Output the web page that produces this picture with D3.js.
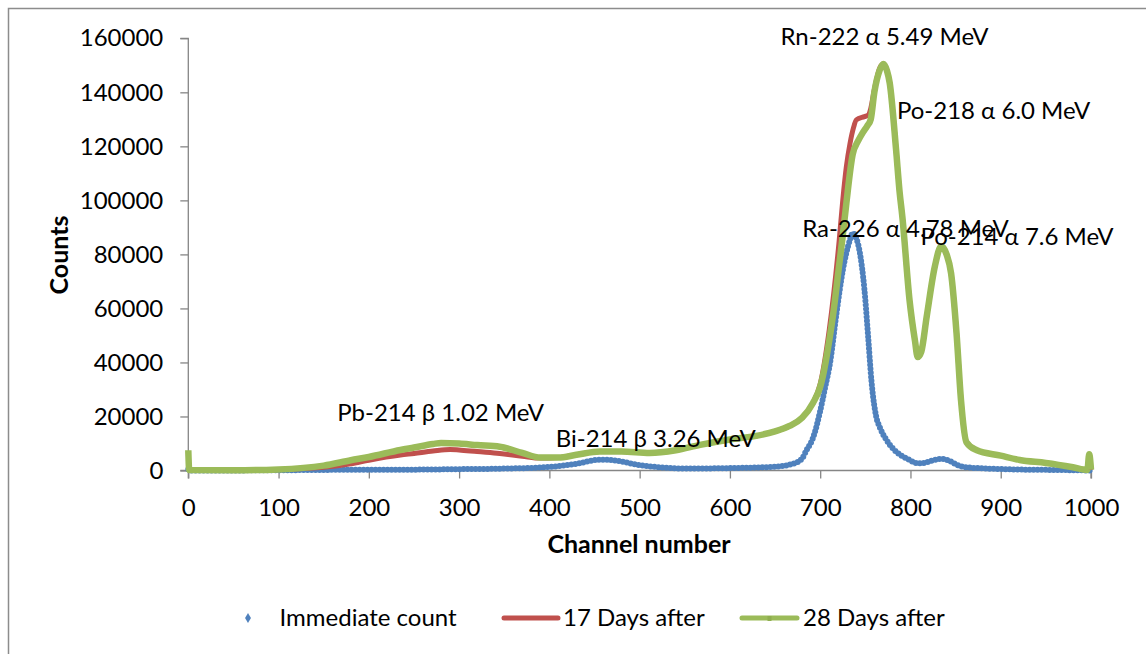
<!DOCTYPE html>
<html>
<head>
<meta charset="utf-8">
<script src="https://cdn.jsdelivr.net/npm/d3@7/dist/d3.min.js"></script>
<style>
  html, body { margin: 0; padding: 0; background: #fff; }
  svg { display: block; }
  text { font-family: Lato, "Open Sans", sans-serif; fill: #000; }
</style>
</head>
<body>
<svg id="chart" width="1146" height="654"></svg>
<script>
// ---------------- data ----------------
const seriesNames = ["Immediate count", "17 Days after", "28 Days after"];

const immediateChannels = [0, 1, 100, 200, 235, 300, 350, 400, 430, 456, 470, 500, 530, 548, 600, 650, 670, 680, 685, 692, 700, 705, 711, 718, 725, 733, 736, 740, 744, 749, 753, 757, 762, 766, 773, 781, 790, 799, 807, 815, 825, 833, 840, 845, 852, 862, 880, 914, 960, 1000];
const immediateCounts   = [500, 0, 100, 300, 300, 500, 700, 1300, 2500, 4000, 3800, 2000, 1000, 700, 900, 1400, 2500, 4500, 7600, 12000, 22000, 30000, 40000, 58000, 74000, 85400, 87900, 86000, 80500, 67000, 50000, 32400, 20000, 16000, 11500, 8000, 5500, 3900, 2700, 2800, 3800, 4300, 4000, 3300, 2000, 1200, 800, 400, 200, 0];

const days17Channels = [0, 1, 50, 100, 150, 180, 200, 235, 250, 271, 290, 300, 320, 345, 370, 390, 410, 430, 456, 480, 511, 540, 567, 600, 629, 650, 666, 680, 692, 700, 710, 721, 725, 729, 733, 737, 740, 749, 753, 756, 760, 766, 770, 774, 777, 784, 788, 791, 799, 805, 808, 812, 818, 827, 834, 840, 845, 851, 856, 862, 873, 900, 921, 950, 980, 996, 998, 1000];
const days17Counts   = [7000, 200, 100, 400, 1200, 2500, 3800, 5700, 6300, 7200, 7800, 7600, 7000, 6300, 5300, 4600, 4800, 5800, 7000, 7000, 6500, 7500, 9500, 11500, 12800, 14500, 16500, 19500, 25000, 32000, 52000, 85000, 100000, 112500, 121000, 127000, 129800, 131000, 131500, 134000, 141000, 149000, 150500, 148000, 143500, 119000, 103000, 94000, 63000, 48000, 42000, 44000, 57000, 75500, 83000, 80000, 73000, 51000, 26000, 10500, 7600, 5500, 3900, 2800, 1200, 200, 5500, 300];

const days28Channels = [0, 1, 50, 100, 150, 180, 200, 235, 250, 271, 280, 300, 320, 345, 370, 390, 410, 430, 456, 480, 511, 540, 567, 600, 629, 650, 666, 680, 692, 700, 703, 710, 714, 721, 725, 729, 736, 742, 747, 752, 756, 760, 766, 770, 774, 777, 784, 788, 791, 799, 805, 808, 812, 818, 827, 834, 840, 845, 851, 856, 862, 873, 900, 921, 950, 980, 996, 998, 1000];
const days28Counts   = [7500, 200, 100, 400, 1800, 3800, 5000, 7600, 8500, 9800, 10200, 10000, 9400, 8800, 6500, 4800, 4800, 5800, 7000, 7000, 6500, 7500, 9500, 11500, 12800, 14500, 16500, 19500, 25000, 31000, 35000, 48000, 57000, 76000, 87000, 99000, 117000, 122000, 125000, 127500, 130000, 140000, 148300, 150500, 148000, 143500, 119000, 103000, 94000, 63000, 48000, 42000, 44000, 57000, 75500, 83000, 80000, 73000, 51000, 26000, 10500, 7600, 5500, 3900, 2800, 1200, 200, 6000, 300];

const xTicks = [0, 100, 200, 300, 400, 500, 600, 700, 800, 900, 1000];
const yTicks = [0, 20000, 40000, 60000, 80000, 100000, 120000, 140000, 160000];

const peakLabels = ["Rn-222 \u03b1 5.49 MeV", "Po-218 \u03b1 6.0 MeV", "Ra-226 \u03b1 4.78 MeV", "Po-214 \u03b1 7.6 MeV", "Pb-214 \u03b2 1.02 MeV", "Bi-214 \u03b2 3.26 MeV"];
// anchor points (channel, counts) where each label sits
const peakLabelChannels = [656, 785, 680, 811, 165, 407];
const peakLabelCounts   = [157500, 130000, 86500, 83500, 18500, 8800];

const xTitle = "Channel number";
const yTitle = "Counts";

// ---------------- layout ----------------
const colors = ["#4F81BD", "#C0504D", "#9BBB59"];
const svg = d3.select("#chart");

// outer frame (cropped on right and bottom in reference)
svg.append("rect").attr("x", 8.5).attr("y", 8.5).attr("width", 1200).attr("height", 700)
  .attr("fill", "none").attr("stroke", "#8c8c8c").attr("stroke-width", 1.5);

const x = d3.scaleLinear().domain([0, 1000]).range([188.3, 1091]);
const y = d3.scaleLinear().domain([0, 160000]).range([470.5, 38.3]);

const fontSize = 24;

// axes
const yAxis = svg.append("g").attr("transform", "translate(188.3,0)")
  .call(d3.axisLeft(y).tickValues(yTicks).tickSize(8).tickPadding(17).tickFormat(d3.format("d")));
const xAxis = svg.append("g").attr("transform", "translate(0,470.5)")
  .call(d3.axisBottom(x).tickValues(xTicks).tickSize(8).tickPadding(20).tickFormat(d3.format("d")));
[yAxis, xAxis].forEach(g => {
  g.select(".domain").attr("stroke", "#868686").attr("stroke-width", 1.3);
  g.selectAll(".tick line").attr("stroke", "#868686").attr("stroke-width", 1.3);
  g.selectAll(".tick text").style("font-family", "Lato, sans-serif").style("font-size", fontSize + "px").attr("fill", "#000");
});
yAxis.select(".domain").attr("d", `M-8,${y(160000)}H0V${y(0)}H-8`);
xAxis.select(".domain").attr("d", `M${x(0)},8V0H${x(1000)}V8`);

// series
const line = d3.line().x(d => x(d[0])).y(d => y(d[1])).curve(d3.curveMonotoneX);
const blueData = immediateChannels.map((c, i) => [c, immediateCounts[i]]);
const redData = days17Channels.map((c, i) => [c, days17Counts[i]]);
const greenData = days28Channels.map((c, i) => [c, days28Counts[i]]);

svg.append("path").datum(blueData).attr("d", line)
  .attr("fill", "none").attr("stroke", colors[0]).attr("stroke-width", 6)
  .attr("stroke-linecap", "round").attr("stroke-dasharray", "0 4");
svg.append("path").datum(redData).attr("d", line)
  .attr("fill", "none").attr("stroke", colors[1]).attr("stroke-width", 5).attr("stroke-linejoin", "round");
svg.append("path").datum(greenData).attr("d", line)
  .attr("fill", "none").attr("stroke", colors[2]).attr("stroke-width", 6.5).attr("stroke-linejoin", "round");

// peak labels
svg.append("g").selectAll("text").data(peakLabels).join("text")
  .attr("x", (d, i) => x(peakLabelChannels[i]))
  .attr("y", (d, i) => y(peakLabelCounts[i]))
  .style("font-size", fontSize + "px")
  .text(d => d);

// axis titles
svg.append("text").attr("x", 639).attr("y", 553).attr("text-anchor", "middle")
  .style("font-size", "25px").style("font-weight", "bold").text(xTitle);
svg.append("text").attr("transform", "translate(68,255) rotate(-90)").attr("text-anchor", "middle")
  .style("font-size", "25px").style("font-weight", "bold").text(yTitle);

// legend
const legend = svg.append("g");
const legendY = 618;
legend.append("path").attr("d", d3.symbol().type(d3.symbolDiamond).size(30)())
  .attr("transform", `translate(248,${legendY})`).attr("fill", colors[0]);
legend.append("line").attr("x1", 504).attr("x2", 558).attr("y1", legendY).attr("y2", legendY)
  .attr("stroke", colors[1]).attr("stroke-width", 5).attr("stroke-linecap", "round");
legend.append("line").attr("x1", 742).attr("x2", 797).attr("y1", legendY).attr("y2", legendY)
  .attr("stroke", colors[2]).attr("stroke-width", 5).attr("stroke-linecap", "round");
legend.append("rect").attr("x", 767.5).attr("y", legendY - 2).attr("width", 4).attr("height", 5).attr("fill", "#8fae4f");
const legendX = [279.5, 563, 803];
legend.selectAll("text.lg").data(seriesNames).join("text").attr("class", "lg")
  .attr("x", (d, i) => legendX[i]).attr("y", legendY + 8)
  .style("font-size", fontSize + "px").text(d => d);
</script>
</body>
</html>
